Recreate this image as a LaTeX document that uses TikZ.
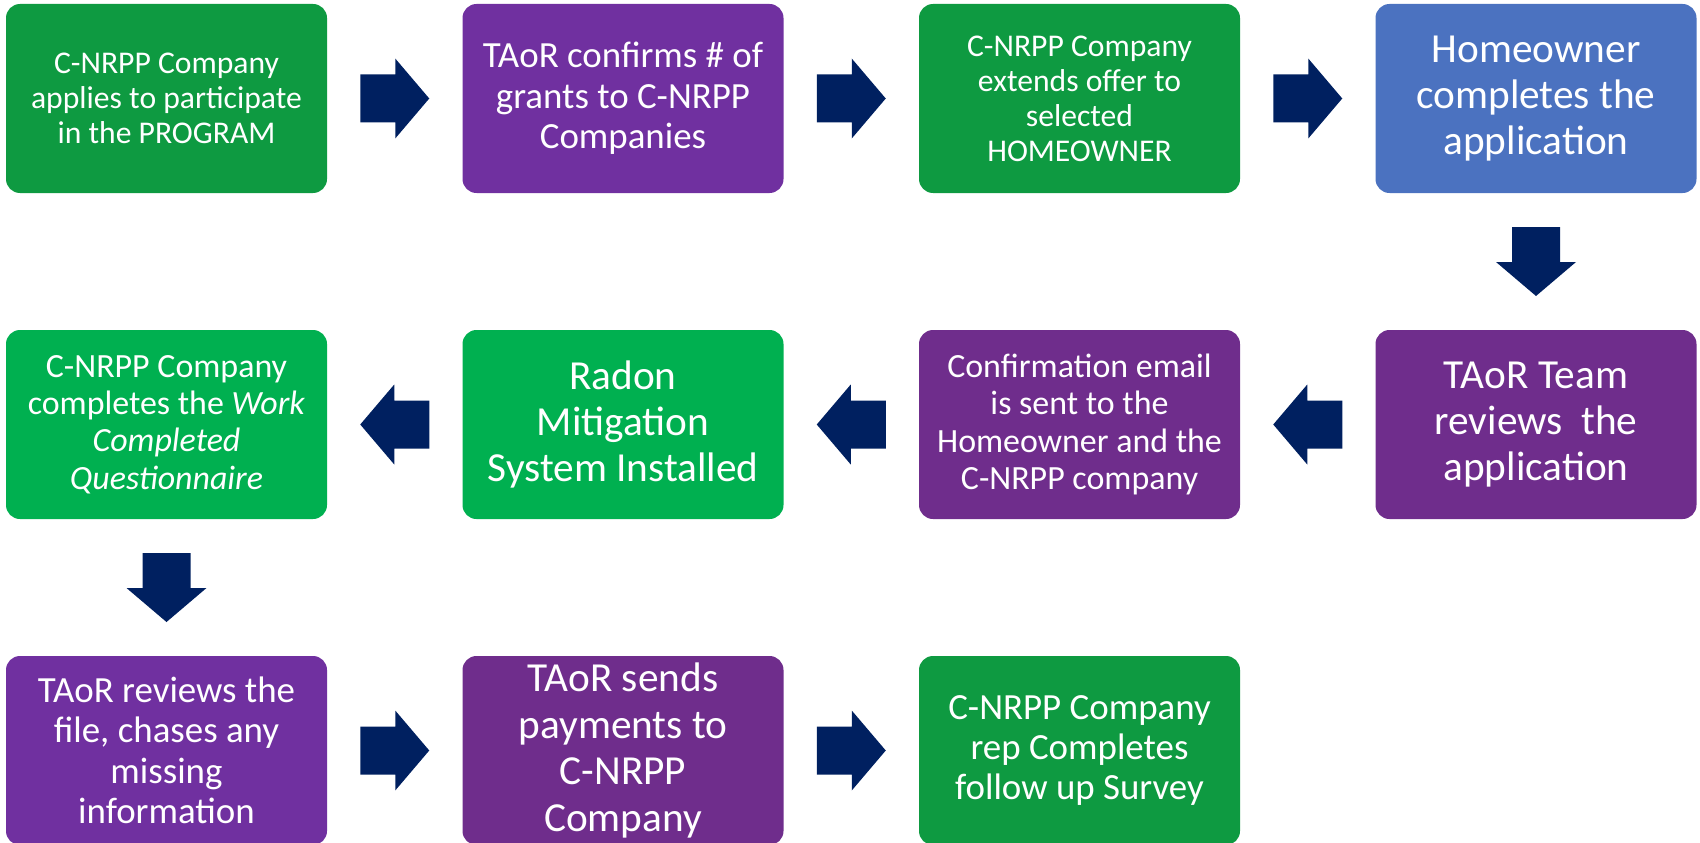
\documentclass[tikz,border=0pt]{standalone}
\usepackage{fontspec}
\setmainfont{Carlito}
\usetikzlibrary{calc}
\definecolor{greenD}{RGB}{14,154,65}
\definecolor{greenL}{RGB}{0,176,80}
\definecolor{purpleL}{RGB}{112,48,160}
\definecolor{purpleD}{RGB}{111,45,140}
\definecolor{blueH}{RGB}{75,114,192}
\definecolor{navy}{RGB}{0,32,96}
\tikzset{
  stepbox/.style={rectangle,rounded corners=0.28cm,minimum width=6.42cm,minimum height=3.78cm,align=center,text=white,inner sep=2pt},
  txtS/.style={font=\fontsize{18}{19.9}\selectfont},
  txtM/.style={font=\fontsize{19.3}{21.3}\selectfont},
  txtL/.style={font=\fontsize{21}{23}\selectfont},
  txtXL/.style={font=\fontsize{23.5}{26.4}\selectfont},
  blockarrow/.pic={\fill[navy] (-0.69,-0.48)--(0.01,-0.48)--(0.01,-0.8)--(0.69,0)--(0.01,0.8)--(0.01,0.48)--(-0.69,0.48)--cycle;}
}
\begin{document}
\begin{tikzpicture}
                    \useasboundingbox (0,0) rectangle (34,-16.86);
                    % first row
                    \node[stepbox,fill=greenD,txtS] (apply) at (3.33,-1.97) {C-NRPP Company\\applies to participate\\in the PROGRAM};
                    \node[stepbox,fill=purpleL,txtL] (confirm) at (12.46,-1.97) {TAoR confirms \# of\\grants to C-NRPP\\Companies};
                    \node[stepbox,fill=greenD,txtS] (offer) at (21.59,-1.97) {C-NRPP Company\\extends offer to\\selected\\HOMEOWNER};
                    \node[stepbox,fill=blueH,txtXL] (homeowner) at (30.72,-1.97) {Homeowner\\completes the\\application};
                    % second row
                    \node[stepbox,fill=purpleD,txtXL] (review) at (30.72,-8.49) {TAoR Team\\reviews\ \ the\\application};
                    \node[stepbox,fill=purpleD,txtM] (email) at (21.59,-8.49) {Confirmation email\\is sent to the\\Homeowner and the\\C-NRPP company};
                    \node[stepbox,fill=greenL,txtXL] (install) at (12.46,-8.49) {Radon\\Mitigation\\System Installed};
                    \node[stepbox,fill=greenL,txtM] (workdone) at (3.33,-8.49) {C-NRPP Company\\completes the \textit{Work}\\\textit{Completed}\\\textit{Questionnaire}};
                    % third row
                    \node[stepbox,fill=purpleL,txtL] (chase) at (3.33,-15.01) {TAoR reviews the\\file, chases any\\missing\\information};
                    \node[stepbox,fill=purpleD,txtXL] (payment) at (12.46,-15.01) {TAoR sends\\payments to\\C-NRPP\\Company};
                    \node[stepbox,fill=greenD,txtL] (survey) at (21.59,-15.01) {C-NRPP Company\\rep Completes\\follow up Survey};
                    % arrows
                    \pic at ($(apply.east)!0.5!(confirm.west)$) {blockarrow};
                    \pic at ($(confirm.east)!0.5!(offer.west)$) {blockarrow};
                    \pic at ($(offer.east)!0.5!(homeowner.west)$) {blockarrow};
                    \pic[rotate=-90] at ($(homeowner.south)!0.5!(review.north)$) {blockarrow};
                    \pic[rotate=180] at ($(review.west)!0.5!(email.east)$) {blockarrow};
                    \pic[rotate=180] at ($(email.west)!0.5!(install.east)$) {blockarrow};
                    \pic[rotate=180] at ($(install.west)!0.5!(workdone.east)$) {blockarrow};
                    \pic[rotate=-90] at ($(workdone.south)!0.5!(chase.north)$) {blockarrow};
                    \pic at ($(chase.east)!0.5!(payment.west)$) {blockarrow};
                    \pic at ($(payment.east)!0.5!(survey.west)$) {blockarrow};
                \end{tikzpicture}
\end{document}
